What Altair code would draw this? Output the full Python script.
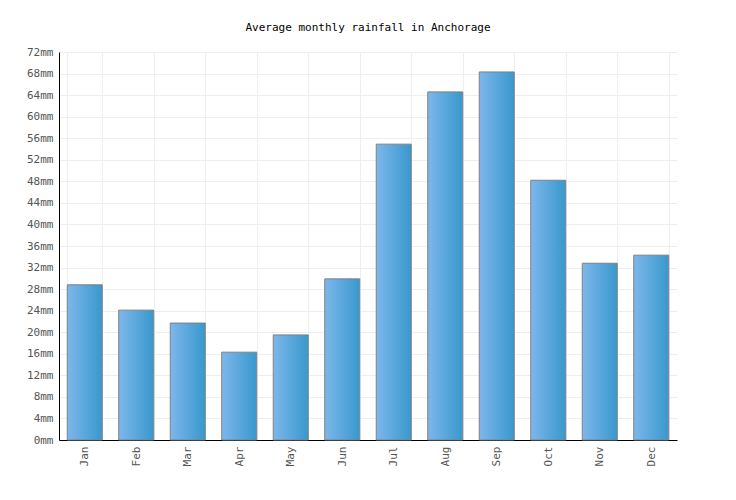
import altair as alt
import pandas as pd

months = ["Jan", "Feb", "Mar", "Apr", "May", "Jun", "Jul", "Aug", "Sep", "Oct", "Nov", "Dec"]
rainfall = [28.8, 24.1, 21.7, 16.3, 19.5, 29.9, 54.9, 64.6, 68.3, 48.2, 32.8, 34.3]

df = pd.DataFrame({"month": months, "rainfall": rainfall})

font = "DejaVu Sans Mono"

bars = alt.Chart(df).mark_bar(
    color=alt.Gradient(
        gradient="linear",
        stops=[alt.GradientStop(color="#7db7eb", offset=0),
               alt.GradientStop(color="#3898cd", offset=1)],
        x1=0, x2=1, y1=0, y2=0,
    ),
    stroke="#808080",
    strokeWidth=1,
).encode(
    alt.X("month:N", sort=months)
        .scale(paddingInner=0.32, paddingOuter=0.16)
        .axis(title=None, labelAngle=270, ticks=False, tickBand="extent",
              domainColor="black", labelPadding=6, labelBaseline="middle",
              gridColor="#eeeeee", grid=True),
    alt.Y("rainfall:Q")
        .scale(domain=[0, 72], nice=False)
        .axis(title=None, values=list(range(0, 73, 4)), labelExpr="datum.value + 'mm'",
              ticks=False, domainColor="black", labelPadding=6,
              gridColor="#eeeeee", minExtent=51, maxExtent=51),
)

chart = bars.properties(
    width=618,
    height=388,
    padding={"left": 0, "top": 14, "right": 10, "bottom": 0},
    title=alt.TitleParams("Average monthly rainfall in Anchorage", font=font, fontSize=11,
                          fontWeight="normal", color="black", offset=13),
).configure_axis(
    labelFont=font, labelFontSize=11, labelColor="#555555", domainWidth=1,
).configure_view(stroke=None)

chart.save("out.html", embed_options={"renderer": "svg", "actions": False})
